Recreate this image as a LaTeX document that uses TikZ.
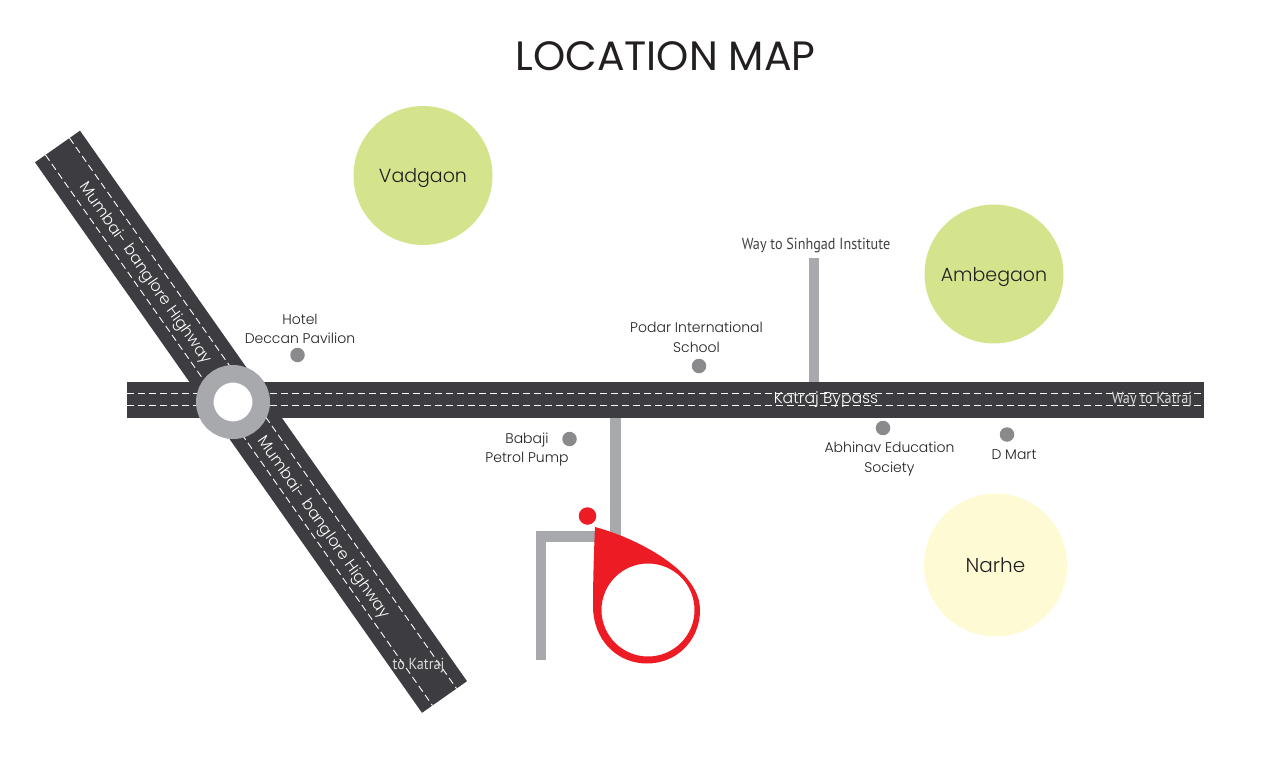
\documentclass[tikz,border=0pt]{standalone}
\usepackage{fontspec}
\setmainfont{Poppins Light}
\newfontfamily\titlefont{Poppins}
\newfontfamily\narrowfont[FakeStretch=0.887]{PT Sans}
\definecolor{roadcol}{HTML}{3D3C40}
\definecolor{sidecol}{HTML}{A7A9AC}
\definecolor{dotcol}{HTML}{8A8A8C}
\definecolor{greencol}{HTML}{D4E48C}
\definecolor{yellowcol}{HTML}{FEFBD4}
\definecolor{redcol}{HTML}{ED1C24}
\definecolor{inkcol}{HTML}{231F20}
\tikzset{
  x=1pt,y=-1pt,
  road/.style={line width=#1,color=roadcol,line cap=butt},
  lane/.style={white,line width=0.9pt,dash pattern=on 7pt off 4pt},
  sideroad/.style={sidecol,line width=10.5pt,line cap=butt},
  area/.style={circle,inner sep=0pt,minimum size=#1},
  lm/.style={circle,fill=dotcol,inner sep=0pt,minimum size=14.5pt},
  place/.style={font=\fontsize{19}{24}\selectfont,text=inkcol,inner sep=0pt},
  lbl/.style={font=\fontsize{14}{19.5}\selectfont,text=inkcol,align=center,inner sep=0pt},
  roadlbl/.style={font=\fontsize{15.7}{18}\selectfont,text=white,inner sep=0pt},
  narrow/.style={font=\narrowfont\fontsize{16}{18}\selectfont,inner sep=0pt},
}
\begin{document}
\begin{tikzpicture}
\useasboundingbox (0,0) rectangle (1286,768);
% title
\node[font=\titlefont\fontsize{41}{48}\selectfont,text=inkcol,inner sep=0pt] (title) at (665.5,56) {LOCATION MAP};
% places
\node[area=139pt,fill=greencol] (vadgaon) at (423,175.5) {};
\node[area=139pt,fill=greencol] (ambegaon) at (994,274) {};
\node[area=143pt,fill=yellowcol] (narhe) at (995.5,565) {};
\node[place] (vadgaonlbl) at (423,178) {Vadgaon};
\node[place] (ambegaonlbl) at (994,277) {Ambegaon};
\node[place,font=\fontsize{20}{24}\selectfont] (narhelbl) at (995.5,565) {Narhe};
% side roads
\draw[sideroad] (814,258) -- (814,382);
\draw[sideroad] (615.5,418) -- (615.5,545);
\draw[sideroad,line cap=butt] (600,536.5) -- (541.2,536.5) -- (541.2,660);
% main roads
\draw[road=36pt] (127,400) -- (1204,400);
\draw[road=55pt] (57.5,146.5) -- (444.5,697);
\draw[lane] (127,393) -- (1204,393);
\draw[lane] (127,405) -- (1204,405);
\draw[lane] (45.5,155) -- (432.5,705.5);
\draw[lane] (69.5,138) -- (456.5,688.5);
% roundabout
\node[circle,draw=sidecol,fill=white,line width=17.5pt,inner sep=0pt,minimum size=56.5pt] (roundabout) at (233,402) {};
% road labels
\node[roadlbl,rotate=-54.9] (hwyA) at (145,273.5) {Mumbai- banglore Highway};
\node[roadlbl,rotate=-54.9] (hwyB) at (323,528) {Mumbai- banglore Highway};
\node[roadlbl] (bypass) at (826,399.5) {Katraj Bypass};
\node[narrow,text=white!85!black] (wayA) at (1152,400) {Way to Katraj};
\node[narrow,text=white!85!black] (wayB) at (418.5,666) {to Katraj};
\node[narrow,text=inkcol!85!white] (wayC) at (816,245) {Way to Sinhgad Institute};
% landmarks
\node[lm] (hotel) at (297.5,355) {};
\node[lm] (podar) at (699,366) {};
\node[lm] (babaji) at (569.5,439) {};
\node[lm] (abhinav) at (883,428) {};
\node[lm] (dmart) at (1007,434.5) {};
\node[lbl] (hotellbl) at (300,329) {Hotel\\Deccan Pavilion};
\node[lbl] (podarlbl) at (696.5,337.5) {Podar International\\School};
\node[lbl] (babajilbl) at (527,449.5) {Babaji\\Petrol Pump};
\node[lbl] (abhinavlbl) at (889.5,459) {Abhinav Education\\Society};
\node[lbl] (dmartlbl) at (1014,455) {D Mart};
% location pin
\node[circle,fill=redcol,inner sep=0pt,minimum size=17.5pt] (pindot) at (587.5,516) {};
\fill[redcol,even odd rule] (595,527)
  .. controls (625,535) and (660,552) .. (681,572)
  .. controls (693,584) and (700,596) .. (700,610)
  .. controls (700,640) and (677,663.5) .. (647,663.5)
  .. controls (617,663.5) and (593,640) .. (593,606)
  .. controls (593,580) and (594,550) .. (595,527) -- cycle
  (648,610) circle [radius=46.5];
\end{tikzpicture}
\end{document}
